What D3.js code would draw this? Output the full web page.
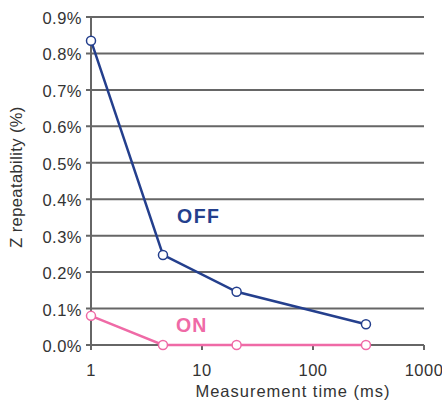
<!DOCTYPE html>
<html>
<head>
<meta charset="utf-8">
<script src="https://cdn.jsdelivr.net/npm/d3@7"></script>
<style>
  body { margin: 0; background: #fff; }
  text { font-family: "Liberation Sans", Arial, sans-serif; }
</style>
</head>
<body>
<div id="chart"></div>
<script>
'use strict'

const times = [1, 4.45, 20.5, 300]
const offValues = [0.835, 0.247, 0.146, 0.057]
const onValues = [0.08, 0.0, 0.0, 0.0]
const yTicks = [0, 0.1, 0.2, 0.3, 0.4, 0.5, 0.6, 0.7, 0.8, 0.9]
const xTicks = [1, 10, 100, 1000]

const width = 442
const height = 405
const margin = { top: 17, right: 18, bottom: 60, left: 91 }

const svg = d3.select('#chart')
  .append('svg')
  .attr('width', width)
  .attr('height', height)

const x = d3.scaleLog()
  .domain([1, 1000])
  .range([margin.left, width - margin.right])

const y = d3.scaleLinear()
  .domain([0, 0.9])
  .range([height - margin.bottom, margin.top])

const grey = '#666'

// horizontal grid
svg.append('g')
  .selectAll('line')
  .data(yTicks)
  .enter()
  .append('line')
  .attr('x1', margin.left - 5)
  .attr('x2', width - margin.right)
  .attr('y1', d => y(d))
  .attr('y2', d => y(d))
  .attr('stroke', grey)
  .attr('stroke-width', 2)

// y axis line
svg.append('line')
  .attr('x1', x(1)).attr('x2', x(1))
  .attr('y1', y(0.9)).attr('y2', y(0) + 5)
  .attr('stroke', grey)
  .attr('stroke-width', 2)

// x ticks
svg.append('g')
  .selectAll('line')
  .data(xTicks)
  .enter()
  .append('line')
  .attr('x1', d => x(d)).attr('x2', d => x(d))
  .attr('y1', y(0)).attr('y2', y(0) + 5)
  .attr('stroke', grey)
  .attr('stroke-width', 2)

svg.append('g')
  .selectAll('text')
  .data(yTicks)
  .enter()
  .append('text')
  .attr('x', margin.left - 9)
  .attr('y', d => y(d) + 7)
  .attr('text-anchor', 'end')
  .attr('font-size', 16.5)
  .attr('letter-spacing', 0.5)
  .attr('fill', '#333')
  .text(d => d.toFixed(1) + '%')

svg.append('g')
  .selectAll('text')
  .data(xTicks)
  .enter()
  .append('text')
  .attr('x', d => x(d))
  .attr('y', y(0) + 31)
  .attr('text-anchor', 'middle')
  .attr('font-size', 16.5)
  .attr('letter-spacing', 0.5)
  .attr('fill', '#333')
  .text(d => d)

svg.append('text')
  .attr('x', 293)
  .attr('y', 397)
  .attr('text-anchor', 'middle')
  .attr('font-size', 16.5)
  .attr('letter-spacing', 1)
  .attr('fill', '#333')
  .text('Measurement time (ms)')

svg.append('text')
  .attr('transform', 'translate(22,177) rotate(-90)')
  .attr('text-anchor', 'middle')
  .attr('font-size', 16.5)
  .attr('letter-spacing', 0.4)
  .attr('fill', '#333')
  .text('Z repeatability (%)')

const line = d3.line()
  .x((d, i) => x(times[i]))
  .y(d => y(d))

const series = [
  { values: offValues, color: '#243f8d' },
  { values: onValues, color: '#ef6aa6' }
]

series.forEach(s => {
  svg.append('path')
    .attr('d', line(s.values))
    .attr('fill', 'none')
    .attr('stroke', s.color)
    .attr('stroke-width', 2.5)

  svg.append('g')
    .selectAll('circle')
    .data(s.values)
    .enter()
    .append('circle')
    .attr('cx', (d, i) => x(times[i]))
    .attr('cy', d => y(d))
    .attr('r', 4.5)
    .attr('fill', '#fff')
    .attr('stroke', s.color)
    .attr('stroke-width', 1.5)
})

svg.append('text')
  .attr('x', 177)
  .attr('y', 223)
  .attr('font-size', 19.5)
  .attr('font-weight', 'bold')
  .attr('letter-spacing', 1.5)
  .attr('fill', '#243f8d')
  .text('OFF')

svg.append('text')
  .attr('x', 176)
  .attr('y', 332)
  .attr('font-size', 19.5)
  .attr('font-weight', 'bold')
  .attr('letter-spacing', 1)
  .attr('fill', '#ef6aa6')
  .text('ON')
</script>
</body>
</html>
